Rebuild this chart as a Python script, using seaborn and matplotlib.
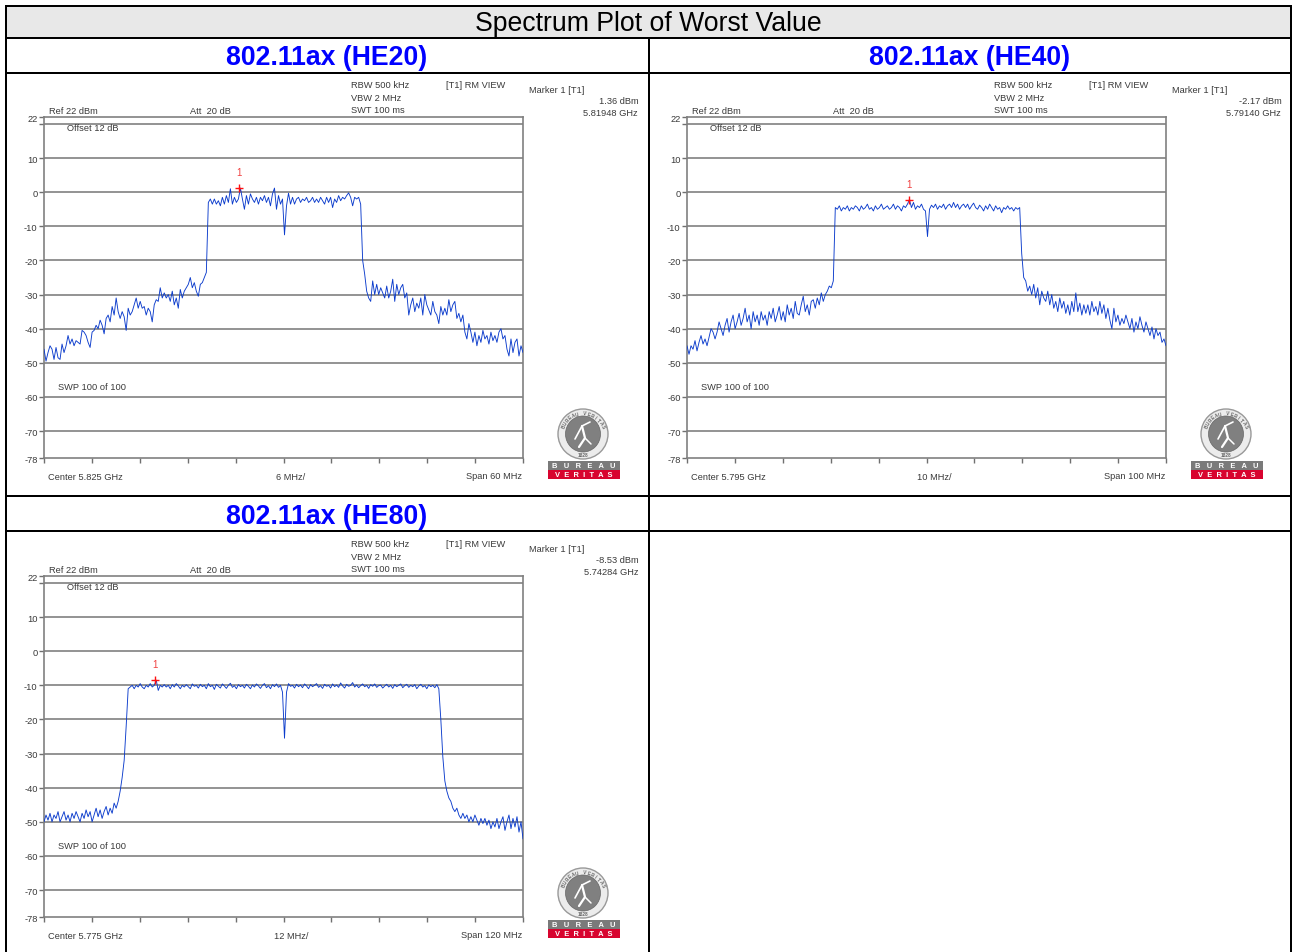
import numpy as np
import matplotlib
matplotlib.use("Agg")
import matplotlib.pyplot as plt
from matplotlib.lines import Line2D
from matplotlib.patches import Ellipse, Rectangle
from matplotlib.transforms import Affine2D
import seaborn as sns

W, H = 1292, 953

# ---------- data ----------
he20_level = [
    -46, -49.5, -47, -45, -46, -49, -45.5, -48.5, -49, -44.5, -47, -45, -42, -44.5, -43, -45, -43.5, -44, -44.5, -40.5,
    -41, -42, -44, -45.5, -41, -40.5, -39, -40, -37.5, -39, -41.5, -37, -36, -38, -33.5, -36, -31, -35, -37, -35,
    -36.5, -40.5, -34, -36, -35, -33, -31, -34, -32, -34, -33.5, -36, -34, -35, -38, -33, -31.5, -32, -28, -31,
    -29.5, -31, -30, -32, -29, -33, -31, -34, -28.5, -31, -29, -28, -27, -25, -28, -26.5, -29, -30.5, -27, -26.5,
    -25, -23.5, -3, -2, -3.5, -2, -3.5, -2.5, -4, -1.5, -3.5, -1, -3, 1, -3.5, -1.5, -3, -2, 1.2, -2,
    -5, -1, -3.5, -0.5, -2, -3, -1.5, -3.5, -1.5, -2.5, -1, -3, -1.5, -4, -0.5, 1.2, -5, -1, -3.5, -2,
    -12.5, -4, -0.3, -3.5, -1.5, -3.5, -2, -1.5, -3, -2, -2.5, -1.5, -3, -2.5, -1.5, -3, -2, -3, -1.5, -2.5,
    -3.5, -1.5, -3, -1.5, -4.5, -2, -3, -1, -2.5, -1.5, -2, -1, -0.2, -1.5, -4, -1.5, -2, -1.5, -3.5, -20,
    -24, -29, -31, -32, -26, -30, -27, -30, -28, -29.5, -31, -27.5, -31, -29, -25.5, -32, -27, -30, -28, -27,
    -31, -29.5, -36, -33, -31, -35, -32.5, -34, -31, -36, -30, -33, -34.5, -36, -32, -35, -36, -38.5, -33.5, -36,
    -34, -36, -31.5, -35, -33, -32, -37, -35.5, -38, -36, -41, -43, -38.5, -41, -44, -41, -45, -42, -44, -40.5,
    -43, -42, -44.5, -41, -43.5, -42, -44, -41, -40, -43, -42, -46, -48, -43, -47, -44, -43, -48, -45, -47,
]
he40_level = [
    -45, -47.5, -45, -46, -43.5, -46.5, -44, -42, -44.5, -43, -45, -42.5, -40, -41, -43, -41, -38, -40, -42, -39,
    -37, -41, -38, -36, -40, -38, -35.5, -39, -37, -34, -38, -36, -40, -35, -38, -36, -39, -35, -37.5, -36,
    -39, -35, -37, -34, -38, -36, -33.5, -37.5, -35, -38, -33, -36, -34, -37, -32, -35.5, -36, -33, -30.5, -35,
    -33, -36, -32, -31.5, -34, -31, -33, -29.5, -32, -30, -29, -27.5, -28, -26, -4.5, -5, -4, -5.5, -4.5, -5,
    -4, -5.5, -4.5, -5, -4, -4.5, -5.5, -4, -5, -4.5, -3.5, -5, -4.5, -5.5, -4, -5, -4.5, -3.5, -5, -4.5,
    -4, -5, -4.5, -3.5, -5, -4, -4.5, -5.5, -4, -4.5, -3.5, -2.2, -4.5, -3, -5, -4, -4.5, -3.5, -5, -5.5,
    -13, -5, -3.8, -4.5, -3.5, -5, -4, -4.5, -3.5, -5, -4, -3.5, -4.5, -3, -4.5, -3.5, -5, -4, -3.5, -4.5,
    -3.5, -5, -4, -3.2, -4.5, -5, -3.8, -4.5, -5.5, -4, -5, -3.5, -4.5, -5.5, -4, -5, -4.5, -6, -4.5, -5,
    -4, -5, -4.5, -5.5, -4.5, -5, -4.5, -18, -25, -26, -29, -27.5, -30, -27, -31, -28, -33, -29, -31, -32,
    -29, -33, -30, -34, -32, -35, -31, -34, -32, -35.5, -33, -36, -32, -35, -29.5, -35, -32.5, -36, -33, -35.5,
    -33, -36, -32, -35, -33.5, -36, -32, -35.5, -33, -37, -34, -37.5, -40, -34, -38, -36, -39, -37, -38.5, -36,
    -38, -40, -37, -41, -38, -40, -36.5, -39, -41, -38, -40, -42, -39.5, -43, -40, -42, -41, -44, -43, -45,
]
he80_level = [
    -50, -48, -49.5, -47.5, -50, -48, -49, -47, -50, -48.5, -47, -49.5, -48, -50, -47.5, -49, -47, -48.5, -50, -47.5,
    -49, -46.5, -48.5, -47, -50, -48, -46, -48.5, -46.5, -49, -47, -45.5, -48, -46, -47.5, -44.5, -46, -44, -41, -37,
    -32, -22, -11, -10.5, -10, -11, -10, -10.5, -9.5, -10.5, -11, -10, -10.5, -9.5, -10.5, -10, -8.5, -11.5, -10, -10.5,
    -9.8, -10.5, -10, -11, -9.8, -10.5, -9.5, -10.2, -11, -10, -10.5, -9.8, -10.4, -11, -9.6, -10.3, -10, -10.8, -9.7, -10.4,
    -10, -11, -9.5, -10.4, -10, -11.2, -9.7, -10.3, -10.8, -9.6, -10.2, -10.9, -10, -9.4, -10.6, -10.1, -11, -9.8, -10.4, -10,
    -10.8, -9.7, -10.3, -11, -9.9, -10.5, -9.6, -10.2, -10.9, -10, -9.5, -10.7, -10.1, -11, -9.8, -10.4, -9.6, -10.6, -10, -12,
    -25.5, -12, -9.5, -10.3, -10, -10.8, -9.7, -10.4, -9.9, -10.7, -9.6, -10.2, -11, -9.8, -10.4, -10, -9.5, -10.6, -10.1, -10.9,
    -9.7, -10.3, -10, -10.8, -9.6, -10.4, -9.9, -10.6, -9.3, -10.2, -10.8, -9.7, -10.3, -10, -9.2, -10.5, -9.9, -10.7, -10.1, -9.6,
    -10.4, -10, -10.9, -9.8, -10.3, -9.6, -10.6, -10.1, -9.9, -10.8, -10.2, -9.7, -10.5, -10, -10.9, -9.8, -10.4, -10, -9.6, -10.7,
    -10.1, -9.7, -10.6, -10, -10.4, -9.8, -11, -10.2, -9.7, -10.5, -10.1, -11, -9.9, -10.4, -10, -10.7, -9.8, -11, -20, -31,
    -38, -41, -43, -44, -46, -47, -46, -48, -49, -47.5, -49, -48, -50, -48.5, -50, -48, -49.5, -51, -49, -50.5,
    -49, -51, -49.5, -52, -50, -51.5, -49, -52, -50, -48.5, -52.5, -50, -48, -52, -49, -51.5, -48.5, -53, -50, -55,
]
panel_titles = ["802.11ax (HE20)", "802.11ax (HE40)", "802.11ax (HE80)"]
centers_ghz = [5.825, 5.795, 5.775]
spans_mhz = [60, 100, 120]
marker_ghz = [5.81948, 5.79140, 5.74284]
marker_dbm = [1.36, -2.17, -8.53]
levels = [he20_level, he40_level, he80_level]
per_div = ["6 MHz/", "10 MHz/", "12 MHz/"]
y_ticks = [22, 20, 10, 0, -10, -20, -30, -40, -50, -60, -70, -78]
y_labels = ["22", "", "10", "0", "-10", "-20", "-30", "-40", "-50", "-60", "-70", "-78"]
grid_levels = [20, 10, 0, -10, -20, -30, -40, -50, -60, -70]

# ---------- setup ----------
sns.set_theme(style="white")
plt.rcParams["font.family"] = ["Liberation Sans", "DejaVu Sans"]
fig = plt.figure(figsize=(W / 100, H / 100), dpi=100, facecolor="white")
PX = Affine2D().scale(1, -1).translate(0, H)
GREY = "#808080"
TXT = "#3a3a3a"
TRACE = "#0c3ccc"
SMALL = 6.7


def ptext(x, y, s, ha="left", va="center", size=SMALL, color=TXT, **kw):
    return fig.text(x, y, s, transform=PX, ha=ha, va=va, fontsize=size, color=color, **kw)


def pline(x0, y0, x1, y1, color="black", lw=1.44):
    fig.add_artist(Line2D([x0, x1], [y0, y1], transform=PX, color=color, lw=lw, solid_capstyle="butt", zorder=5))


def logo(dx, dy):
    cx, cy = 583 + dx, 435 + dy
    fig.add_artist(Ellipse((cx, cy), 50, 50, transform=PX, fc="#ececec", ec="#999999", lw=1.0))
    fig.add_artist(Ellipse((cx, cy), 35, 36, transform=PX, fc="#808080", ec="#666666", lw=0.5))
    word = "BUREAU VERITAS"
    for i, ch in enumerate(word):
        a = np.deg2rad(158 - i * 136 / (len(word) - 1))
        ptext(cx + 21 * np.cos(a), cy - 21 * np.sin(a), ch, ha="center", size=3.4, color="#666666",
              rotation=np.rad2deg(a) - 90, rotation_mode="anchor", fontweight="bold")
    ptext(cx, cy + 21, "1828", ha="center", size=3.4, color="#666666", fontweight="bold")
    fig.add_artist(Line2D([cx - 8, cx - 1, cx + 7], [cy + 5, cy - 8, cy - 12], transform=PX, color="white", lw=1.2))
    fig.add_artist(Line2D([cx - 1, cx + 2, cx - 4], [cy - 8, cy + 4, cy + 13], transform=PX, color="white", lw=1.6))
    fig.add_artist(Line2D([cx + 2, cx + 8], [cy + 4, cy + 10], transform=PX, color="white", lw=1.1))
    fig.add_artist(Rectangle((cx - 35, cy + 27), 72, 8.5, transform=PX, fc="#7a7a7a", ec="none"))
    fig.add_artist(Rectangle((cx - 35, cy + 36), 72, 9, transform=PX, fc="#d8042f", ec="none"))
    ptext(cx + 1, cy + 31.3, "B   U   R   E   A   U", ha="center", size=5.4, color="white", fontweight="bold")
    ptext(cx + 1, cy + 40.7, "V  E  R  I  T  A  S", ha="center", size=5.4, color="white", fontweight="bold")


# ---------- table frame ----------
fig.add_artist(Rectangle((6, 8), 1285, 30.5, transform=PX, fc="#e8e8e8", ec="none", zorder=0))
for y in (7, 39, 74, 497, 532):
    pline(5, y, 1292, y)
for x in (6, 649, 1291):
    pline(x, 39 if x == 649 else 6, x, 953)
ptext(648, 24, "Spectrum Plot of Worst Value", ha="center", size=19.2, color="black")

# ---------- panels ----------
offsets = [(0, 0), (643, 0), (0, 459)]
for i, (dx, dy) in enumerate(offsets):
    x0, x1, ytop, ybot = 44 + dx, 523 + dx, 118.1 + dy, 459.4 + dy
    ax = fig.add_axes([x0 / W, 1 - ybot / H, (x1 - x0) / W, (ybot - ytop) / H])
    span = spans_mhz[i]
    freq = np.linspace(-span / 2, span / 2, len(levels[i]))
    for g in grid_levels:
        ax.axhline(g, color=GREY, lw=1.2, zorder=1)
    sns.lineplot(x=freq, y=levels[i], ax=ax, color=TRACE, lw=0.65, estimator=None, errorbar=None, zorder=3)
    mx = (marker_ghz[i] - centers_ghz[i]) * 1000
    ax.plot([mx], [marker_dbm[i]], marker="+", color="#ff1010", ms=5.5, mew=1.0, zorder=4, ls="none")
    ax.annotate("1", (mx, marker_dbm[i]), xytext=(0, 11.5), textcoords="offset points", ha="center", va="center",
                fontsize=7, color="#f04040")
    ax.set_xlim(-span / 2, span / 2)
    ax.set_ylim(-78, 22)
    ax.set_xticks(np.linspace(-span / 2, span / 2, 11))
    ax.set_xticklabels([])
    ax.set_yticks(y_ticks)
    ax.set_yticklabels(y_labels, fontsize=SMALL, color=TXT)
    ax.tick_params(axis="both", length=3.6, width=1, color="#707070", pad=1, bottom=True, left=True)
    ax.set_xlabel("")
    ax.set_ylabel("")
    ax.grid(False)
    for s in ax.spines.values():
        s.set_color(GREY)
        s.set_linewidth(1.2)
    # header + annotation text
    ptext(327 + dx, 58 + dy, panel_titles[i], ha="center", size=19.2, color="#0000ff", fontweight="bold")
    ptext(49 + dx, 112 + dy, "Ref 22 dBm")
    ptext(190 + dx, 112 + dy, "Att  20 dB")
    ptext(351 + dx, 86 + dy, "RBW 500 kHz")
    ptext(351 + dx, 99 + dy, "VBW 2 MHz")
    ptext(351 + dx, 111 + dy, "SWT 100 ms")
    ptext(446 + dx, 86 + dy, "[T1] RM VIEW")
    ptext(529 + dx, 91 + dy, "Marker 1 [T1]")
    ptext(639 + dx, 102 + dy, f"{marker_dbm[i]:.2f} dBm", ha="right")
    ptext(638 + dx, 114 + dy, f"{marker_ghz[i]:.5f} GHz", ha="right")
    ptext(67 + dx, 129 + dy, "Offset 12 dB")
    ptext(58 + dx, 388 + dy, "SWP 100 of 100")
    ptext(48 + dx, 478 + dy, f"Center {centers_ghz[i]:.3f} GHz")
    ptext(291 + dx, 478 + dy, per_div[i], ha="center")
    ptext(522 + dx, 477 + dy, f"Span {span} MHz", ha="right")
    logo(dx, dy)

fig.savefig("out.png", dpi=100)
